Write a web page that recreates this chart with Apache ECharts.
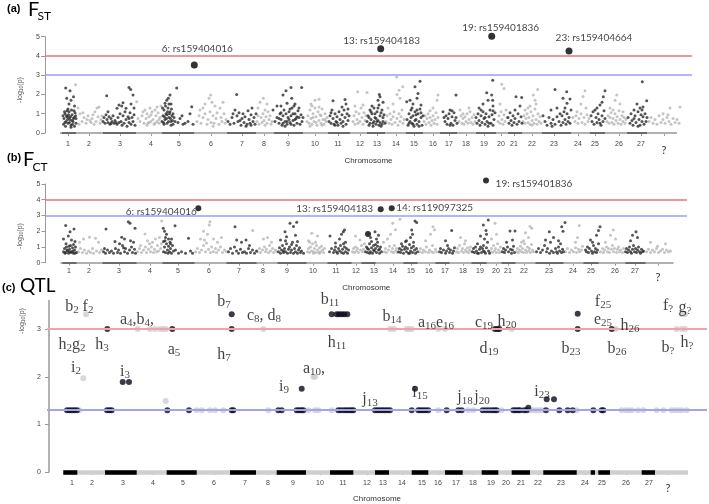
<!DOCTYPE html>
<html><head><meta charset="utf-8">
<script src="https://cdn.jsdelivr.net/npm/echarts@6/dist/echarts.min.js"></script>
<style>html,body{margin:0;padding:0;background:#fff}#c{width:709px;height:504px}</style>
</head><body><div id="c"></div>
<script>
const chromNames = ['1','2','3','4','5','6','7','8','9','10','11','12','13','14','15','16','17','18','19','20','21','22','23','24','25','26','27','?'];
const fstTickPos = [23,44,75,106,134,166,197,219,243,270,293,315,332,351,369,388,404,421,439,456,469,487,509,533,550,574,596,619];
const fctTickPos = [23.5,43.5,73.5,104.5,132.5,163.5,193.5,217.5,241.5,267.5,290.5,310.5,328.5,347.5,365.5,383.5,399.5,417.5,434.5,450.5,462.5,478.5,503.5,527.5,545.5,569.5,589.5,612.5];
const qtlTickPos = [23,43,74,104,134,165,196,219,244,271,294,318,334,353,373,389,407,424,442,457,472,489,512,536,553,577,600,619];
const yTicksTop = [0,1,2,3,4,5];
const yTicksQtl = [0,1,2,3];
const fstThresholds = [4, 3];
const fctThresholds = [4, 3];
const qtlThresholds = [3, 1.3];

const fstSpan = [15, 632];
const fstDarkSpans = [[17,31],[58,91],[117,149],[182,211],[229,258],[283,305],[322,340],[361,378],[395,412],[431,451],[463,477],[497,526],[545,560],[582,602]];
const fctSpan = [15, 628];
const fctDarkSpans = [[17,31],[57,91],[117,149],[181,211],[232,261],[282,306],[316,330],[358,372],[390,404],[426,441],[456,470],[490,518],[538,553],[580,600]];
const qtlSpan = [14, 639];
const qtlDarkSpans = [[14.3,28.3],[56,87.7],[117.7,147.7],[181,207],[227.7,257],[281,304.3],[326,340],[362.7,379.3],[396,413.7],[432.7,449.3],[462.7,481],[494.3,527.7],[541.7,546],[549.3,561],[592.7,606]];

const fstTop = [[149.3,3.53],[335.7,4.38],[446.7,5.02],[524,4.26]];
const fstTopNames = ['6: rs159404016','13: rs159404183','19: rs159401836','23: rs159404664'];
const fctTop = [[152.8,3.46],[335.2,3.4],[346.2,3.46],[440.5,5.22]];
const fctTopNames = ['6: rs159404016','13: rs159404183','14: rs119097325','19: rs159401836'];
const fctBlob = [[322.5,1.83]];

const fstDark = [
[20.7,2.34],[25,2.19],[21.7,1.8],[26,1.7],[28.5,1.88],[24,1.5],[29.5,1.4],[22,1.15],
[18,0.9],[19,0.75],[20,1.0],[21,0.6],[22,0.85],[23,0.5],[24,1.1],[25,0.7],[26,0.4],[27,0.95],[28,0.6],[29,0.8],[30,1.05],[31,0.5],[18.5,0.45],[19.5,1.1],[20.5,0.35],[21.5,0.9],[22.5,0.7],[23.5,0.95],[24.5,0.55],[25.5,0.85],[26.5,1.2],[27.5,0.45],[28.5,0.75],[29.5,0.35],[30.5,0.9],[20,0.55],[24,0.8],[27,0.65],[29,1.15],[23,1.25],[26,0.3],[31,0.75],
[61.7,1.93],[84,2.36],[85.7,2.26],[88,1.97],[78,1.57],[76.7,1.4],[81,1.28],[72,1.28],[74,1.45],[86,1.5],[89,1.3],[63,1.1],
[58,0.6],[59,0.8],[60,0.5],[61,0.95],[62,0.7],[63,0.55],[64,0.85],[65,0.45],[66,0.75],[67,0.6],[68,0.9],[69,0.5],[70,0.65],[72,0.45],[73,0.8],[74,0.55],[75,1.0],[76,0.6],[77,0.4],[78,0.9],[79,0.5],[80,1.1],[81,0.7],[82,0.35],[83,0.85],[84,0.55],[85,1.05],[86,0.45],[87,0.8],[88,0.6],[89,0.95],[90,0.4],[71,0.55],[66,0.5],[84,0.75],
[125,1.97],[123.3,1.8],[121.7,1.7],[120,1.55],[126,1.5],[131.7,2.34],[146.7,1.36],[145,1.0],[135,0.75],[140,0.5],[143,0.6],[148,0.45],[138,0.45],[133,0.55],[137,0.9],
[117,0.6],[118,0.9],[119,1.2],[120,0.7],[121,1.0],[122,0.5],[123,1.3],[124,0.8],[125,1.1],[126,0.6],[127,0.9],[128,0.45],[117.5,1.3],[118.5,0.55],[119.5,0.85],[120.5,1.4],[121.5,0.75],[122.5,1.1],[123.5,0.6],[124.5,1.0],[125.5,0.75],[126.5,1.25],[127.5,0.65],[119,0.45],[122,0.95],[124,1.5],[126,0.4],[128,1.0],[130,0.6],[129,0.8],
[191.7,2.0],[183,0.6],[185,0.45],[187,0.8],[189,0.5],[190,1.2],[192,0.9],[193,0.6],[194,1.05],[196,0.4],[197,0.75],[198,1.0],[199,0.55],[200,0.85],[202,0.45],[203,1.15],[204,0.7],[205,0.5],[206,0.95],[207,1.3],[208,0.6],[209,0.8],[210,0.45],[211,1.0],[195,0.65],[201,0.35],[188,1.0],[206,0.4],
[246,2.36],[241,2.19],[238,1.97],[246.7,1.8],[242,1.55],[236,1.4],[250,1.5],[228,1.19],[232,1.4],[256.7,2.36],
[230,0.6],[232,0.8],[234,0.5],[235,1.0],[236,0.7],[237,0.4],[238,0.9],[239,1.2],[240,0.6],[241,1.0],[242,0.45],[243,0.8],[244,1.1],[245,0.55],[246,0.9],[247,1.3],[248,0.65],[249,0.4],[250,1.0],[251,0.75],[252,0.5],[253,1.15],[254,0.8],[255,0.45],[256,0.95],[257,0.6],[240,0.35],[244,0.7],[248,1.0],[252,0.85],[236,1.05],[242,0.6],[246,0.45],[250,0.7],[254,1.3],[238,0.5],[234,0.75],[258,0.8],[245,1.25],[249,1.4],
[288,1.67],[300,1.74],[301,1.5],[297,1.35],
[284,0.6],[285,0.9],[286,0.5],[287,1.2],[288,0.75],[289,0.45],[290,1.0],[291,0.6],[292,0.85],[293,0.4],[294,1.1],[295,0.7],[296,0.5],[297,0.95],[298,0.6],[299,1.2],[300,0.8],[301,0.45],[302,1.0],[303,0.65],[304,0.9],[286,1.05],[292,0.55],[298,0.35],[303,1.25],[290,0.4],
[335,1.88],[333,1.7],[338,1.6],[327,1.4],[334.3,2.0],
[322,0.6],[323,0.9],[324,0.4],[325,1.2],[326,0.7],[327,1.0],[328,0.5],[329,1.3],[330,0.8],[331,0.45],[332,1.1],[333,0.65],[334,1.45],[335,0.9],[336,0.35],[337,1.2],[338,0.6],[339,0.95],[340,0.5],[324,0.8],[326,1.1],[328,0.35],[330,1.0],[332,0.6],[334,0.4],[336,1.05],[338,0.8],[331,0.75],[333,1.3],[335,0.55],[329,0.6],[337,0.45],[325,0.5],
[375,2.69],[370,2.4],[373,2.05],[372,1.8],[361.7,1.62],[365,1.7],[368,1.5],[376,1.45],
[362,0.7],[363,0.4],[364,1.0],[365,0.6],[366,1.2],[367,0.5],[368,0.9],[369,0.35],[370,1.1],[371,0.7],[372,0.45],[373,1.0],[374,0.6],[375,1.25],[376,0.8],[377,0.4],[378,0.9],[364,0.5],[366,0.8],[368,0.45],[370,0.65],[372,1.2],[374,0.35],[376,1.05],[367,1.3],[371,0.95],
[411,1.97],[405,1.2],[398,1.1],[400,0.6],[401,0.9],[402,0.45],[403,0.75],[404,1.0],[406,0.5],[407,0.85],[408,0.4],[409,1.05],[410,0.65],[412,0.5],[399,0.8],[405,0.4],[407,1.15],[411,0.8],
[447.7,2.74],[441.7,2.09],[446.7,1.97],[443,1.7],[447.7,1.7],[438,1.5],[448,1.4],[436,1.2],
[431,0.8],[432,0.5],[433,1.0],[434,0.65],[435,0.4],[436,0.9],[437,0.55],[438,1.1],[439,0.75],[440,0.45],[441,1.0],[442,0.6],[443,0.35],[444,0.85],[445,1.2],[446,0.5],[447,0.95],[448,0.4],[449,0.7],[450,1.05],[434,1.3],[440,0.8],[444,0.5],[448,1.15],
[471,1.88],[476.7,1.84],[475,1.4],[470,1.2],[463,0.8],[464,0.5],[465,1.05],[466,0.65],[467,0.4],[468,0.9],[469,0.55],[470,0.75],[472,0.45],[473,1.0],[474,0.6],[476,0.85],[477,0.5],
[510,2.26],[521.7,2.14],[525,1.76],[518,1.8],[522,1.55],[512,1.3],[506,1.2],[498,0.9],[500,0.6],[502,0.4],[504,0.8],[506,0.5],[508,0.7],[510,0.45],[512,0.85],[514,0.6],[516,0.4],[517,0.9],[518,0.55],[519,1.1],[520,0.7],[521,0.45],[522,1.0],[523,0.6],[524,0.8],[525,0.5],[526,1.2],[507,0.35],[515,1.0],[520,1.3],
[560,2.19],[558.3,1.88],[557,1.6],[555,1.45],[550,1.2],[546,0.9],[547,0.6],[548,1.1],[549,0.45],[551,0.8],[552,0.55],[553,1.0],[554,0.7],[556,0.4],[557,0.9],[558,0.6],[559,1.15],[560,0.75],[555,0.5],[552,1.3],
[597.3,2.66],[601.7,1.67],[592,1.5],[595,1.3],[589,1.2],[598,1.35],[583,0.8],[585,0.5],[586,1.0],[587,0.65],[588,0.4],[590,0.9],[591,0.55],[593,1.1],[594,0.7],[595,0.4],[596,0.95],[597,0.6],[598,0.85],[599,0.45],[600,1.0],[601,0.6],[602,0.8],[589,0.75],[593,0.35],[597,1.2]
];
const fstLight = [
[30.5,2.5],[33,1.3],[35,1.0],[37,0.6],[39,0.8],[41,0.5],[43,0.9],[45,0.65],[47,0.75],[49,0.45],[50,1.1],[51,0.6],[52,1.3],[53,0.85],[54,1.35],[55,0.5],[56,0.7],[34,0.45],[38,1.05],[42,0.7],[46,0.55],[48,0.95],[57,0.9],
[91.7,1.62],[95,0.6],[97,0.9],[99,0.5],[100,1.2],[101,0.75],[102,1.0],[103,0.5],[104,0.85],[105,1.3],[106,0.6],[107,1.1],[108,0.7],[109,0.45],[110,1.2],[111,0.9],[112,0.6],[113,1.05],[114,0.5],[115,0.8],[116,1.4],[93,0.75],[98,1.1],[102,0.4],[106,0.95],[110,0.5],[114,0.7],[112,1.35],[104,0.55],
[165.7,1.97],[164,1.8],[167,1.6],[160,1.5],[155,1.2],[170,1.4],[175,1.3],[178,1.6],[152,0.6],[154,0.9],[156,0.5],[158,0.8],[160,1.0],[162,0.45],[163,0.7],[165,1.1],[166,0.55],[168,0.9],[169,0.5],[171,0.75],[172,1.05],[174,0.45],[176,0.8],[177,0.6],[179,1.0],[180,0.5],[181,0.7],[158,1.3],[168,0.35],
[218.3,1.8],[215,1.6],[213,1.3],[222,1.5],[212,0.6],[213,0.9],[214,0.45],[216,0.8],[217,0.55],[218,1.0],[219,0.65],[220,0.4],[221,0.85],[222,0.5],[223,1.1],[224,0.7],[225,0.9],[226,0.45],[220,1.2],[227,0.6],
[270,1.7],[274,1.75],[266,1.5],[262,0.6],[263,0.9],[264,0.5],[265,1.2],[266,0.75],[267,0.45],[268,1.0],[269,0.6],[270,1.3],[271,0.85],[272,0.4],[273,1.1],[274,0.65],[275,0.95],[276,0.5],[277,1.25],[278,0.7],[279,0.45],[280,1.0],[281,0.6],[282,0.8],[265,0.35],[268,0.8],[271,0.55],[274,1.35],[277,0.4],[280,0.7],[267,1.4],[276,0.9],
[312.7,2.14],[322,2.1],[310,1.4],[308,0.6],[309,0.9],[310,0.45],[311,1.1],[312,0.7],[313,0.5],[314,1.0],[315,0.6],[316,1.3],[317,0.8],[318,0.45],[319,1.05],[320,0.65],[321,0.9],[318,1.45],
[351.7,2.91],[354,2.22],[357.7,2.4],[352,2.0],[355,1.8],[348,1.5],[343,1.3],[341,0.6],[342,0.9],[344,0.5],[345,1.0],[346,0.7],[347,0.45],[348,0.85],[349,1.1],[350,0.55],[352,0.75],[353,0.4],[354,1.0],[355,0.6],[356,0.85],[357,1.2],[358,0.5],[359,0.7],
[393,1.97],[392,1.7],[388,1.3],[379,0.6],[380,0.9],[381,0.45],[382,0.75],[383,1.0],[384,0.55],[385,0.8],[386,0.4],[387,0.65],[388,0.9],[389,0.5],[390,0.7],[391,1.05],[392,0.45],[393,0.8],[385,1.15],
[415,1.2],[414,0.6],[416,0.9],[417,0.5],[418,0.75],[419,0.45],[420,0.85],[421,0.6],[422,1.0],[423,0.5],[424,0.7],[425,1.1],[426,0.55],[427,0.8],[428,0.45],[429,0.95],[430,0.6],[424,1.3],[418,1.0],
[456.7,2.53],[459,2.31],[455,1.5],[453,0.6],[454,0.9],[455,0.5],[456,1.1],[457,0.7],[458,0.45],[459,0.95],[460,0.6],[461,1.2],[462,0.8],
[492.7,2.26],[488.3,1.97],[490,1.7],[485,1.4],[480,1.2],[478,0.6],[479,0.9],[480,0.5],[481,0.75],[482,1.0],[483,0.55],[484,0.8],[485,0.45],[486,1.1],[487,0.65],[488,0.9],[489,0.5],[490,1.25],[491,0.7],[492,0.45],[493,1.0],[494,0.6],[495,0.85],[496,0.5],[483,1.3],[487,0.4],[491,1.5],
[540,2.19],[538,1.9],[536,1.5],[541,1.3],[528,0.8],[530,0.6],[531,0.9],[533,0.5],[534,0.75],[536,1.0],[537,0.55],[539,0.8],[540,0.45],[542,0.95],[543,0.6],[544,0.75],[532,1.1],
[571.7,1.97],[570,1.7],[575,1.5],[565,1.3],[562,0.6],[563,0.9],[564,0.5],[565,0.8],[566,1.05],[567,0.55],[568,0.75],[569,0.45],[570,1.0],[571,0.65],[572,0.85],[573,0.5],[574,1.15],[575,0.7],[576,0.45],[577,0.9],[578,0.6],[579,0.8],[580,0.5],[581,0.7],[568,1.2],[578,1.1],
[625,1.3],[635,1.35],[618,1.0],[604,0.6],[606,0.8],[608,0.5],[610,0.7],[612,0.45],[614,0.9],[616,0.55],[618,0.7],[620,0.5],[622,0.8],[624,0.6],[626,0.45],[628,0.75],[630,0.55],[632,0.7],[634,0.5],[623,0.95]
];

const fctDark = [
[20.2,2.36],[24.5,1.97],[28.5,2.14],[22.8,1.7],[26,1.45],[29.5,1.35],[18,1.5],
[18,0.7],[19,0.9],[20,0.65],[21,1.0],[22,0.75],[23,0.6],[24,0.85],[25,1.1],[26,0.7],[27,0.95],[28,0.6],[29,0.8],[30,1.0],[31,0.65],[19.5,0.6],[21.5,0.8],[23.5,1.05],[25.5,0.65],[27.5,0.75],[29.5,0.6],[20.5,1.2],[24,0.7],[28,1.15],
[60.5,2.14],[82.8,2.6],[84.5,2.5],[89.5,2.19],[76.2,1.61],[79,1.5],[69.5,1.34],[85,1.4],[88,1.3],[78,0.95],[58,0.7],[59,0.9],[60,0.6],[62,0.8],[64,0.65],[66,0.75],[68,0.6],[70,0.9],[72,0.65],[73,0.8],[75,0.6],[77,1.1],[79,0.7],[80,0.9],[82,0.6],[84,0.8],[86,1.0],[87,0.65],[89,0.85],[90,0.6],[74,1.2],
[117.8,2.19],[119,2.0],[129.5,2.34],[121,1.8],[120,1.6],[123,1.5],[118,1.35],[125,1.2],[143,1.55],[118,0.7],[119,1.0],[120,0.65],[121,1.2],[122,0.8],[123,1.05],[124,0.7],[125,0.9],[126,0.6],[127,1.1],[128,0.75],[119.5,1.4],[122.5,0.6],[124.5,1.3],[130,0.8],[133,0.6],[136,0.7],[140,0.6],[145,0.75],[147,0.6],[126,1.5],
[189.5,2.29],[191.2,1.44],[200.5,1.44],[183,0.7],[185,0.9],[187,0.6],[189,1.0],[191,0.75],[193,0.6],[195,0.85],[197,0.65],[199,0.7],[201,0.6],[203,0.9],[205,0.65],[207,0.8],[209,0.6],[211,0.75],[196,1.3],[204,1.1],
[244.5,2.5],[251.2,2.57],[239.5,1.97],[248,2.3],[241,1.65],[250,1.75],[235,1.45],[233,0.7],[234,0.95],[235,0.6],[236,0.8],[237,1.1],[238,0.65],[239,0.9],[240,0.7],[241,1.2],[242,0.6],[243,0.85],[244,1.0],[245,0.65],[246,0.8],[247,1.3],[248,0.6],[249,0.9],[250,0.7],[251,1.1],[252,0.6],[253,0.8],[254,0.95],[255,0.65],[256,0.75],[258,0.6],[240,1.4],[246,1.15],[252,1.35],[238,0.75],
[284.5,1.7],[297.8,1.97],[299,2.08],[296,1.8],[294,1.5],[300,1.3],[284,0.7],[286,0.9],[288,0.65],[289,0.8],[290,1.0],[291,0.7],[292,0.6],[293,0.9],[294,0.75],[295,1.1],[296,0.65],[297,0.85],[298,0.6],[299,1.0],[300,0.7],[301,0.9],[302,0.6],[303,0.8],[290,1.25],[298,1.2],
[329.5,1.97],[333,1.75],[325,1.6],[331,1.5],[320,0.7],[321,1.0],[322,0.65],[323,0.85],[324,1.2],[325,0.7],[326,0.95],[327,0.6],[328,1.1],[329,0.75],[330,0.9],[331,0.65],[332,1.3],[333,0.8],[334,0.6],[335,1.0],[336,0.7],[324,0.6],[328,0.8],[332,1.05],[326,1.35],[330,1.15],[334,0.85],[322,0.9],
[371.2,2.55],[369.5,2.65],[366.2,2.08],[367,1.8],[365,1.6],[361,1.4],[356,1.2],[353,0.7],[354,0.9],[355,0.65],[356,0.8],[357,1.05],[358,0.6],[359,0.85],[360,1.0],[361,0.7],[362,0.9],[363,0.6],[364,1.15],[365,0.75],[366,0.95],[367,0.65],[368,1.3],[369,0.8],[370,0.6],[371,0.9],[372,0.7],[360,1.35],[364,0.6],[368,1.05],
[406.2,2.04],[400,1.4],[394,0.7],[395,0.9],[396,0.65],[398,0.8],[400,0.6],[401,0.75],[403,0.9],[404,0.65],[405,0.8],[407,0.6],[408,0.75],[409,0.95],[402,1.1],
[442.8,2.72],[437.8,2.4],[440.5,2.04],[435,1.7],[441,1.8],[439,1.5],[427,0.7],[428,0.9],[429,0.65],[430,1.0],[431,0.75],[432,1.2],[433,0.6],[434,0.85],[435,1.0],[436,0.65],[437,0.9],[438,1.1],[439,0.7],[440,0.6],[441,0.95],[442,1.3],[443,0.75],[444,0.6],[432,0.6],[438,0.75],
[464.5,2.02],[469.5,2.02],[467,1.45],[461,1.3],[457,0.7],[458,0.9],[459,0.65],[460,0.8],[462,1.0],[463,0.7],[465,0.85],[466,0.6],[467,0.8],[468,1.05],[469,0.65],
[503.8,1.97],[519.5,2.55],[516.2,2.29],[517.5,2.0],[508,1.6],[513,1.4],[505,1.3],[491,0.7],[493,0.9],[495,0.65],[497,0.8],[499,1.1],[501,0.7],[502,0.9],[504,0.6],[506,0.75],[508,0.65],[510,0.9],[511,0.7],[512,0.6],[513,1.0],[514,0.75],[515,1.2],[516,0.65],[517,0.85],[518,0.7],[500,1.45],
[554.5,2.29],[553,2.05],[551,1.75],[545,1.44],[540,0.8],[541,0.7],[542,1.0],[543,0.65],[544,0.9],[546,0.75],[547,0.6],[548,1.1],[549,0.7],[550,0.9],[551,0.65],[552,0.8],[553,1.2],[547,1.3],
[590.5,1.97],[587,1.75],[592,1.6],[585,1.4],[580,0.7],[581,0.9],[582,0.65],[583,0.8],[584,1.0],[585,0.7],[586,0.6],[587,0.85],[588,1.1],[589,0.7],[590,0.9],[591,0.65],[592,0.8],[593,1.0],[594,0.7],[595,0.6],[596,0.85],[597,0.7],[598,0.75]
];
const fctLight = [
[34,1.3],[38,1.5],[44,1.61],[50,1.55],[53,1.3],[33,0.7],[35,0.9],[37,0.65],[39,0.8],[41,0.6],[43,0.75],[45,0.65],[47,0.9],[48,0.6],[51,0.75],[54,0.65],[56,0.8],
[99.5,1.83],[116.2,2.65],[114,1.6],[110,1.5],[107,1.3],[104,1.2],[92,0.7],[94,0.9],[96,0.65],[98,0.8],[100,1.0],[101,0.65],[103,0.85],[105,0.7],[106,1.0],[108,0.65],[109,0.85],[111,0.7],[112,1.1],[113,0.75],[115,0.9],[116,1.2],[102,1.4],[95,1.1],
[164.5,2.6],[163.8,2.4],[158,2.0],[162,1.8],[168,1.5],[155,1.5],[172,1.3],[176,1.6],[150,0.7],[152,0.9],[154,0.65],[156,0.8],[158,1.1],[160,0.7],[161,1.25],[163,0.85],[165,0.65],[166,1.0],[168,0.7],[170,0.9],[171,0.65],[173,0.8],[175,1.0],[177,0.65],[179,0.8],[181,0.7],[159,1.45],
[207.2,2.04],[218,1.5],[222,1.6],[226,1.3],[212,0.7],[214,0.9],[215,0.65],[217,0.8],[219,1.0],[220,0.7],[221,0.85],[223,0.65],[224,1.1],[225,0.75],[227,0.9],[228,0.65],[230,0.8],[231,0.7],
[266.2,1.87],[272,1.7],[263,1.4],[262,0.7],[263,0.9],[264,0.65],[265,1.0],[266,0.75],[267,1.2],[268,0.7],[269,0.9],[270,0.65],[271,1.1],[272,0.8],[273,0.65],[274,0.95],[275,0.7],[276,1.05],[277,0.8],[278,0.65],[279,0.9],[264,1.3],[270,1.3],[274,0.6],[268,0.6],
[314.5,1.44],[310,1.7],[307,0.7],[308,0.9],[309,0.65],[310,1.0],[311,0.75],[312,0.9],[313,0.65],[315,0.8],[316,1.1],[317,0.7],[318,0.85],[319,1.2],
[354.5,2.76],[347.2,2.5],[350,2.1],[345,1.8],[342,1.5],[338,1.3],[339,0.7],[340,0.9],[341,0.65],[343,0.8],[344,1.05],[346,0.7],[347,0.9],[348,0.65],[349,1.1],[350,0.75],[351,0.9],[352,0.65],
[387.5,2.29],[389,2.1],[385,1.8],[380,1.4],[374,0.7],[375,0.9],[377,0.65],[378,0.8],[380,0.7],[381,1.0],[383,0.65],[384,0.8],[386,0.7],[387,1.1],[388,0.65],[390,0.85],[391,0.7],
[415,1.6],[420,1.4],[411,0.7],[412,0.9],[413,0.65],[414,1.1],[416,0.75],[417,0.9],[418,0.65],[419,1.2],[420,0.8],[421,0.7],[422,0.95],[423,0.65],[424,0.8],[425,1.0],[426,0.7],
[449.5,2.5],[451,1.8],[446,1.5],[445,0.7],[446,0.9],[447,0.65],[448,1.1],[449,0.75],[450,0.9],[451,0.65],[452,1.2],[453,0.8],[454,0.65],[455,1.0],[456,0.7],
[486.2,2.19],[484.5,2.3],[480,1.9],[483,1.6],[478,1.4],[471,0.7],[472,0.9],[473,0.65],[474,0.8],[475,1.05],[476,0.7],[477,0.9],[478,0.65],[479,1.2],[480,0.8],[481,0.65],[482,1.0],[483,0.75],[484,0.9],[485,0.65],[486,1.15],[487,0.8],[488,0.7],[476,1.3],
[533.8,2.36],[532,1.6],[530,1.3],[520,0.7],[522,0.9],[524,0.65],[526,0.8],[528,0.7],[530,0.95],[531,0.65],[533,0.85],[534,0.7],[536,0.8],[537,1.05],
[567.8,2.08],[565,1.75],[570,1.5],[560,1.3],[555,0.7],[557,0.9],[558,0.65],[559,0.8],[561,1.0],[562,0.7],[563,0.9],[564,0.65],[566,0.85],[567,1.1],[568,0.7],[569,0.9],[571,0.65],[572,0.85],[573,1.0],[574,0.7],[575,0.8],[577,0.65],[578,0.9],
[605,1.3],[620,1.2],[612,1.05],[601,0.7],[603,0.85],[605,0.65],[607,0.8],[609,0.7],[611,0.9],[613,0.65],[615,0.75],[617,0.85],[619,0.65],[621,0.8],[623,0.7],[625,0.75]
];

const qtlDark = [
[58.3,3],[123.3,3],[182.7,3],[446,3],[448.3,3],[450.3,3],[528.7,3],[562.7,3],
[182.7,3.31],[282.7,3.31],[287.7,3.31],[290,3.31],[292.7,3.31],[295.3,3.31],[298.3,3.31],[528.7,3.32],
[73.7,1.89],[80,1.89],[252.7,1.75],[366,1.75],[497.7,1.53],[505,1.53],[479.3,1.35],
[18,1.3],[20.5,1.3],[23,1.3],[25.5,1.3],[28,1.3],[58,1.3],[60.5,1.3],[62.7,1.3],[118.3,1.3],[140,1.3],[182.7,1.3],[184.3,1.3],[229.3,1.3],[232.7,1.3],[247.7,1.3],[250,1.3],[252.3,1.3],[254.3,1.3],
[289.3,1.3],[292,1.3],[295,1.3],[297.5,1.3],[300,1.3],[302.5,1.3],[304.3,1.3],[326,1.3],[328.5,1.3],[331,1.3],[333.5,1.3],[336,1.3],[338.5,1.3],[341,1.3],[362.7,1.3],[369.3,1.3],[371.5,1.3],[374,1.3],[376.5,1.3],[379.3,1.3],[397.7,1.3],[409.3,1.3],[412.7,1.3],
[433.7,1.3],[437,1.3],[440,1.3],[443,1.3],[445.5,1.3],[447.7,1.3],[464.3,1.3],[466.5,1.3],[469,1.3],[471,1.3],[475,1.3],[477.7,1.3],[497,1.3],[510.3,1.3],[518.7,1.3],[523.7,1.3],[544.3,1.3],[552.7,1.3],[554.3,1.3]
];
const qtlLight = [
[88.7,3],[101,3],[106,3],[111,3],[114.3,3],[117,3],[214.3,3],[341,3],[345,3],[357.7,3],[360,3],[362.7,3],[389.3,3],[396,3],[462.7,3],[566.7,3],[627.7,3],[632.7,3],[636,3],
[37,3.31],[632.7,3.31],[636,3.31],
[34.3,1.97],[116.7,1.49],[264.3,2.0],[266,2.0],
[30.5,1.3],[147.7,1.3],[152.7,1.3],[161,1.3],[166,1.3],[174.3,1.3],[219.3,1.3],[259.3,1.3],[266,1.3],[269.3,1.3],[282.7,1.3],[389.3,1.3],[419.3,1.3],[424.3,1.3],[452.7,1.3],[481,1.3],[484,1.3],[487,1.3],[490,1.3],[493,1.3],[527.7,1.3],
[572.7,1.3],[577,1.3],[580,1.3],[583,1.3],[589,1.3],[594.3,1.3],[607.7,1.3],[614.3,1.3],[622.7,1.3],[626,1.3],[629.5,1.3],[633,1.3],[637.7,1.3]
];
const qtlLabels = [
['b_2',23,3.47],['f_2',39,3.47],['a_4,b_4,',88,3.19],['b_7',175,3.57],['h_2g_2',23,2.67],['h_3',53,2.67],['a_5',125,2.57],['h_7',175,2.47],
['c_8, d_8',215,3.28],['b_11',281,3.61],['h_11',288,2.71],['b_14',343,3.26],['a_16e_16',387,3.13],['c_19',435,3.13],['h_20',458,3.15],['d_19',440,2.59],
['b_23',522,2.59],['f_25',554,3.57],['e_25',554,3.19],['h_26',581,3.07],['b_26',568,2.59],['f_?',619,3.49],['g_?',636,3.45],['b_?',619,2.61],['h_?',638,2.71],
['i_2',27,2.19],['i_3',76,2.11],['i_9',235,1.80],['a_10,',265,2.17],['j_13',321,1.53],['i_15',371,1.67],['j_18',416,1.57],['j_20',433,1.57],['i_23',493,1.69]
];

// ---------- styles ----------
const DARK = '#2a2a2a', LIGHT = '#b5b5b5', RED = '#ee7474', BLUE = '#9a9aff';
const QDARK = '#0b0b1c', QLIGHT = '#cdcdd3', QRED = '#f3a3a3', QBLUE = '#a3a3f0';
const AX = '#999', LBL = '#444';

function fmtChrom(ticks){
  return function(v){
    const i = ticks.findIndex(p => Math.abs(p - v) < 0.01);
    if (i < 0) return '';
    return chromNames[i] === '?' ? '{q|?}' : chromNames[i];
  };
}
function mkX(g, min, max, ticks, nameGap, margin){
  return {
    gridIndex: g, type: 'value', min: min, max: max,
    axisLine: {show: false}, splitLine: {show: false},
    axisTick: {show: true, customValues: ticks, length: 3, lineStyle: {color: AX}},
    axisLabel: {customValues: ticks, formatter: fmtChrom(ticks), fontSize: 7, color: LBL, margin: margin,
      fontFamily: 'Liberation Sans',
      rich: {q: {fontSize: 11, fontFamily: 'Lato', color: '#333', padding: [4,0,0,0]}}},
    name: 'Chromosome', nameLocation: 'middle', nameGap: nameGap,
    nameTextStyle: {fontSize: 8, color: '#333', fontFamily: 'Liberation Sans'}
  };
}
function mkY(g, max, ticks, margin, lw){
  return {
    gridIndex: g, type: 'value', min: 0, max: max,
    splitLine: {show: false},
    axisLine: {show: true, lineStyle: {color: AX, width: lw}},
    axisTick: {show: true, customValues: ticks, length: 4, lineStyle: {color: AX}},
    axisLabel: {customValues: ticks, fontSize: 7, color: LBL, margin: margin, fontFamily: 'Liberation Sans'}
  };
}
function bandLines(span, darkSpans, light, dark, w){
  const out = [[{coord: [span[0], 0], lineStyle: {color: light, width: w, type: 'solid'}}, {coord: [span[1], 0]}]];
  darkSpans.forEach(s => out.push([{coord: [s[0], 0], lineStyle: {color: dark, width: w, type: 'solid'}}, {coord: [s[1], 0]}]));
  return out;
}
function bandMarkLine(span, darkSpans, light, dark, w){
  return {silent: true, symbol: 'none', animation: false, label: {show: false},
    data: bandLines(span, darkSpans, light, dark, w)};
}
function addThreshold(g, v, color, w){
  series.push({type: 'line', xAxisIndex: g, yAxisIndex: g, data: [], z: 1,
    markLine: {silent: true, symbol: 'none', animation: false, label: {show: false},
      lineStyle: {color: color, width: w, type: 'solid', opacity: 1},
      emphasis: {disabled: true},
      data: [{yAxis: v}]}});
}
function toRich(s){ return ('{m|' + s.replace(/_(\d+|\?)/g, '}{s|$1}{m|') + '}').replace(/\{m\|\}/g, ''); }

const fstOffsets = [[3,-16],[1,-8],[9,-9],[25,-13]];
const fctOffsets = [[-37,4],[-46,0],[43,0],[48,3]];

const series = [];
function addManhattan(g, light, dark, top, names, offsets, band, topSize){
  series.push({type: 'scatter', xAxisIndex: g, yAxisIndex: g, data: light, symbolSize: 3,
    itemStyle: {color: LIGHT}, markLine: band, z: 2});
  series.push({type: 'scatter', xAxisIndex: g, yAxisIndex: g, data: dark, symbolSize: 3,
    itemStyle: {color: DARK}, z: 3});
  series.push({type: 'scatter', xAxisIndex: g, yAxisIndex: g, symbolSize: topSize, clip: false,
    itemStyle: {color: '#000'}, z: 4,
    data: top.map((p, i) => ({value: p, label: {offset: offsets[i]}})),
    label: {show: true, position: 'inside', formatter: p => names[p.dataIndex],
      fontFamily: 'Lato', fontSize: 10, color: '#111'}});
}
addThreshold(0, fstThresholds[0], RED, 1.5);
addThreshold(0, fstThresholds[1], BLUE, 1.5);
addManhattan(0, fstLight, fstDark, fstTop, fstTopNames, fstOffsets,
  bandMarkLine(fstSpan, fstDarkSpans, '#b0b0b0', '#6a6a6a', 2), 7);
addThreshold(1, fctThresholds[0], RED, 1.5);
addThreshold(1, fctThresholds[1], BLUE, 1.5);
addManhattan(1, fctLight, fctDark, fctTop, fctTopNames, fctOffsets,
  bandMarkLine(fctSpan, fctDarkSpans, '#b0b0b0', '#6a6a6a', 2), 6);
series.push({type: 'scatter', xAxisIndex: 1, yAxisIndex: 1, data: fctBlob, symbolSize: 6, itemStyle: {color: '#000'}, z: 4});

addThreshold(2, qtlThresholds[0], QRED, 2);
addThreshold(2, qtlThresholds[1], QBLUE, 2);
series.push({type: 'scatter', xAxisIndex: 2, yAxisIndex: 2, data: qtlLight, symbolSize: 6, clip: false,
  itemStyle: {color: QLIGHT}, z: 2,
  markLine: bandMarkLine(qtlSpan, qtlDarkSpans, '#cfcfcf', '#000', 4.5)});
series.push({type: 'scatter', xAxisIndex: 2, yAxisIndex: 2, data: qtlDark, symbolSize: 6, clip: false,
  itemStyle: {color: QDARK}, z: 3});
series.push({type: 'scatter', xAxisIndex: 2, yAxisIndex: 2, symbolSize: 1, clip: false, silent: true,
  itemStyle: {color: 'rgba(0,0,0,0)'}, z: 5,
  data: qtlLabels.map(l => [l[1], l[2]]),
  label: {show: true, position: 'inside', formatter: p => toRich(qtlLabels[p.dataIndex][0]),
    rich: {m: {fontFamily: 'Liberation Serif', fontSize: 16, color: '#111'},
           s: {fontFamily: 'Liberation Serif', fontSize: 11, color: '#111', padding: [7,0,0,0]}}}});

function yName(x, y){
  return {type: 'text', x: x, y: y, rotation: Math.PI / 2,
    style: {text: '{a|-log}{s|10}{a|(p)}', align: 'center', verticalAlign: 'middle',
      rich: {a: {fontSize: 7, fill: '#555', fontFamily: 'Liberation Sans'},
             s: {fontSize: 5, fill: '#555', fontFamily: 'Liberation Sans', padding: [3,0,0,0]}}}};
}
function tx(text, x, y, size, family, weight){
  return {type: 'text', x: x, y: y, style: {text: text, fontSize: size, fontFamily: family,
    fontWeight: weight || 'normal', fill: '#000', verticalAlign: 'middle', align: 'left'}};
}

const option = {
  animation: false,
  grid: [
    {left: 45, top: 36.7, width: 647, height: 96.3},
    {left: 45.5, top: 184, width: 641.5, height: 78.7},
    {left: 47, top: 300.5, width: 660, height: 172.8}
  ],
  xAxis: [mkX(0, 0, 647, fstTickPos, 20, 8), mkX(1, 0, 641.5, fctTickPos, 12, 5), mkX(2, -2, 658, qtlTickPos, 22, 7)],
  yAxis: [mkY(0, 5, yTicksTop, 5, 1), mkY(1, 5, yTicksTop, 5, 1), mkY(2, 3.6, yTicksQtl, 6, 1.5)],
  graphic: [
    tx('(a)', 7, 9, 11, 'Liberation Sans', 'bold'),
    tx('F', 28, 10, 20, 'Lato'),
    tx('ST', 37.5, 16.5, 12, 'Lato'),
    tx('(b)', 7, 158, 11, 'Liberation Sans', 'bold'),
    tx('F', 23, 160, 20, 'Lato'),
    tx('CT', 32.5, 167, 12, 'Lato'),
    tx('(c)', 2, 288, 11, 'Liberation Sans', 'bold'),
    tx('QTL', 20, 286, 19, 'Lato'),
    yName(20, 90), yName(20, 236), yName(22, 321)
  ],
  series: series
};
const chart = echarts.init(document.getElementById('c'), null, {renderer: 'canvas'});
chart.setOption(option);
</script></body></html>
